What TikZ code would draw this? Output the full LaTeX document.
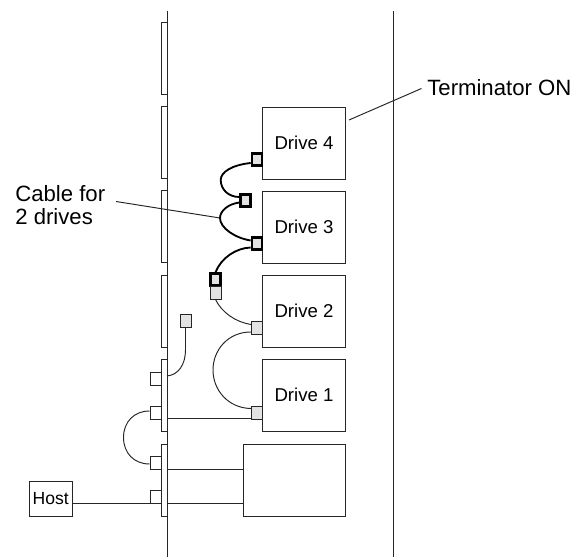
\documentclass[tikz,border=0pt]{standalone}
\usepackage{fontspec}
\setmainfont{Liberation Sans}
\tikzset{
  wire/.style={line width=0.55pt,black!85},
  cable/.style={line width=1.05pt},
  drive/.style={draw,wire,fill=white,minimum width=1.66cm,minimum height=1.44cm,inner sep=0pt,font=\fontsize{10.6}{12}\selectfont,text=black},
  plug/.style={draw,wire,fill=gray!22,minimum width=0.22cm,minimum height=0.26cm,inner sep=0pt},
  bigplug/.style={plug,draw=black,line width=1.3pt,minimum width=0.2cm,minimum height=0.24cm},
  port/.style={draw,wire,fill=white,minimum width=0.22cm,minimum height=0.26cm,inner sep=0pt},
  callout/.style={font=\fontsize{12.6}{13.6}\selectfont,inner sep=0pt,align=left}
}
\begin{document}
\begin{tikzpicture}[x=0.02cm,y=-0.02cm]
\useasboundingbox (0,0) rectangle (578,557);

% rack sides
\draw[wire] (167,11) -- (167,557);
\draw[wire] (393,11) -- (393,557);
\foreach \y in {22,106,190.5,275,359,444}
  \draw[wire,fill=white] (161,\y) rectangle (167,\y+72);

% drives
\node[drive] (drive4) at (304,143) {Drive 4};
\node[drive] (drive3) at (304,227) {Drive 3};
\node[drive] (drive2) at (304,311) {Drive 2};
\node[drive] (drive1) at (304,395) {Drive 1};
\node[drive,minimum width=2.04cm] (array) at (294,480) {};
\node[draw,wire,text=black,minimum width=0.86cm,minimum height=0.7cm,inner sep=0pt,font=\fontsize{10}{12}\selectfont] (host) at (50.7,499) {Host};

% plugs
\node[bigplug] (plugd4) at (256.8,159.5) {};
\node[bigplug] (plugmid) at (245.5,200.5) {};
\node[bigplug] (plugd3) at (256.8,243.5) {};
\node[bigplug] (plugend) at (215.5,279.5) {};
\node[plug] (plugtop) at (215.5,292.5) {};
\node[plug] (plugd2) at (256.8,328) {};
\node[plug] (plugd1) at (256.8,412.5) {};
\node[plug] (plugfree) at (185.5,320.5) {};

% ports on the rack
\node[port] (porta) at (155.5,378.5) {};
\node[port] (portb) at (155.5,412.5) {};
\node[port] (portc) at (155.5,462.5) {};
\node[port] (portd) at (155.5,496.5) {};
\coordinate (busb) at (167,418.8);
\coordinate (busc) at (167,469);
\coordinate (busd) at (167,503);
\coordinate (busa) at (167,376);

% thick cable
\draw[cable] ([yshift=-0.07cm]plugd4.west) .. controls (232,165) and (220.7,172) .. (220.7,180)
  .. controls (220.7,189) and (228,197) .. ([yshift=0.07cm]plugmid.west);
\draw[cable] ([yshift=-0.04cm]plugmid.west) .. controls (228,204) and (220,211) .. (220,218)
  .. controls (220,228) and (235,238) .. ([yshift=0.06cm]plugd3.west);
\draw[cable] ([yshift=-0.08cm]plugd3.west) .. controls (236,248) and (221,258) .. (plugend.north);

% thin cables
\draw[wire] (plugtop.south) .. controls (222,313) and (236,322) .. ([yshift=0.07cm]plugd2.west);
\draw[wire] ([yshift=-0.08cm]plugd2.west) .. controls (228,332) and (213,350) .. (213,370)
  .. controls (213,390) and (228,408) .. ([yshift=0.08cm]plugd1.west);
\draw[wire] ([yshift=0.03cm]portb.west) .. controls (134,411) and (123.5,422) .. (123.5,437.5)
  .. controls (123.5,453) and (134,464) .. ([yshift=-0.03cm]portc.west);
\draw[wire] (plugfree.south) -- (185.5,350) .. controls (185.5,365) and (178,375) .. (busa);
\draw[wire] (busb) -- (busb -| plugd1.west);
\draw[wire] (busc) -- (busc -| array.west);
\draw[wire] (busd) -- (busd -| array.west);
\draw[wire] (host.east |- portd.south) -- (portd.south west);

% labels
\node[callout,anchor=west] (term) at (427,87.5) {Terminator ON};
\coordinate (termend) at (349,120);
\draw[wire] (termend) -- (421.5,88.5);
\node[callout,anchor=base west] (cablelabel) at (15,225) {Cable for\\2 drives};
\coordinate (cableend) at (220,218);
\draw[wire] (116,201.5) -- (cableend);
\end{tikzpicture}
\end{document}
